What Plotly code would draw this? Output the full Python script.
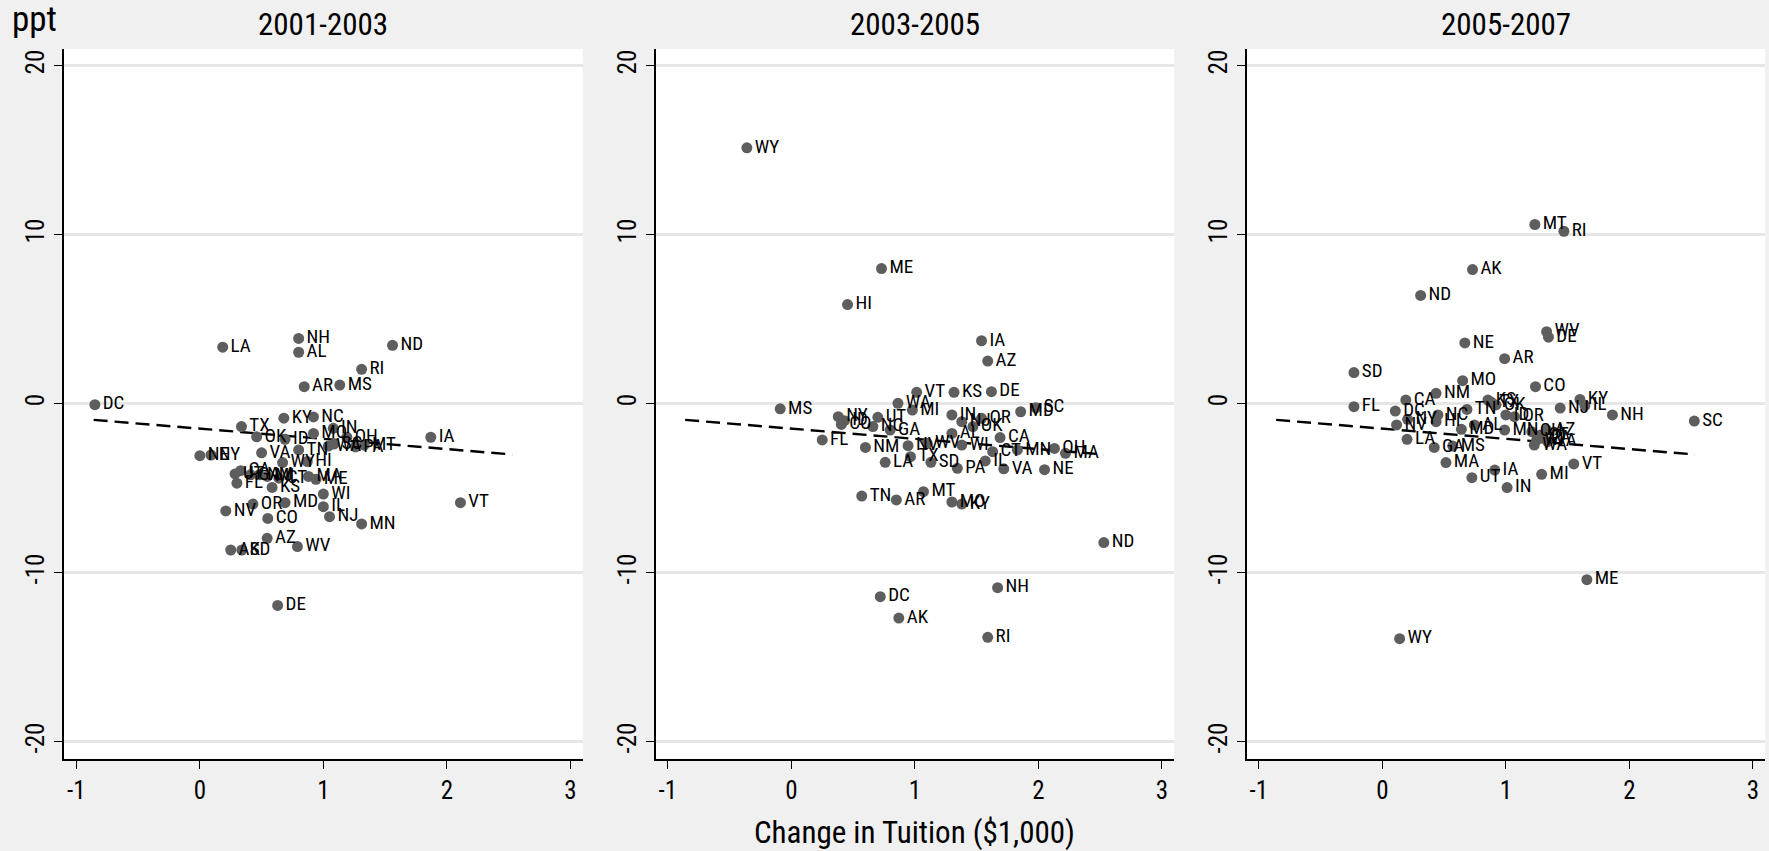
import plotly.graph_objects as go

# ---- data: change in tuition ($1,000) vs change (ppt), by state and period ----
periods = ["2001-2003", "2003-2005", "2005-2007"]

states_0103 = ["DC", "LA", "NH", "AL", "AR", "MS", "ND", "RI", "IA", "VT", "MN", "NJ", "IL",
               "WI", "WV", "AZ", "SD", "AK", "NV", "OR", "CO", "MD", "TX", "KY", "NC", "IN",
               "OK", "ID", "MO", "WA", "SC", "OH", "PA", "MT", "VA", "TN", "WY", "HI", "NE",
               "NY", "UT", "FL", "CA", "GA", "NM", "MI", "CT", "KS", "MA", "ME", "DE"]
tuition_0103 = [-0.85, 0.185, 0.80, 0.80, 0.845, 1.133, 1.56, 1.31, 1.87, 2.11, 1.31, 1.05, 1.0,
                1.0, 0.79, 0.545, 0.34, 0.25, 0.21, 0.43, 0.55, 0.69, 0.337, 0.68, 0.92, 1.08,
                0.46, 0.69, 0.92, 1.04, 1.085, 1.19, 1.26, 1.33, 0.50, 0.80, 0.67, 0.87, 0.0,
                0.09, 0.285, 0.30, 0.33, 0.41, 0.48, 0.545, 0.64, 0.585, 0.88, 0.94, 0.63]
change_0103 = [-0.05, 3.35, 3.87, 3.05, 1.01, 1.11, 3.46, 2.04, -1.98, -5.85, -7.11, -6.68, -6.09,
               -5.34, -8.45, -7.96, -8.65, -8.65, -6.34, -5.93, -6.78, -5.85, -1.35, -0.85, -0.78, -1.45,
               -1.95, -2.1, -1.75, -2.5, -2.38, -1.98, -2.55, -2.45, -2.9, -2.73, -3.48, -3.42, -3.07,
               -3.03, -4.15, -4.7, -3.96, -4.2, -4.2, -4.3, -4.4, -4.95, -4.3, -4.47, -11.93]

states_0305 = ["WY", "ME", "HI", "IA", "AZ", "KS", "DE", "VT", "WA", "MI", "MS", "FL", "NM",
               "TN", "AR", "NY", "CO", "ID", "UT", "NC", "GA", "LA", "TX", "NV", "WV", "SD",
               "IN", "OR", "NJ", "OK", "MD", "SC", "AL", "WI", "CA", "CT", "IL", "PA", "VA",
               "NE", "MN", "OH", "MA", "MT", "MO", "KY", "ND", "DC", "AK", "NH", "RI"]
tuition_0305 = [-0.36, 0.73, 0.455, 1.54, 1.59, 1.317, 1.62, 1.015, 0.863, 0.98, -0.09, 0.25, 0.60,
                0.57, 0.85, 0.38, 0.405, 0.43, 0.70, 0.66, 0.80, 0.76, 0.965, 0.945, 1.10, 1.13,
                1.30, 1.54, 1.38, 1.47, 1.857, 1.98, 1.30, 1.38, 1.69, 1.63, 1.57, 1.344, 1.72,
                2.05, 1.83, 2.13, 2.22, 1.07, 1.30, 1.38, 2.53, 0.72, 0.87, 1.67, 1.59]
change_0305 = [15.15, 8.0, 5.87, 3.73, 2.53, 0.68, 0.72, 0.68, 0.03, -0.37, -0.3, -2.14, -2.58,
               -5.46, -5.69, -0.76, -1.22, -1.0, -0.80, -1.35, -1.55, -3.46, -3.13, -2.48, -2.34, -3.46,
               -0.66, -0.86, -1.06, -1.35, -0.47, -0.23, -1.75, -2.44, -2.0, -2.83, -3.38, -3.82, -3.85,
               -3.9, -2.73, -2.64, -2.93, -5.2, -5.81, -5.93, -8.21, -11.41, -12.68, -10.88, -13.82]

states_0507 = ["MT", "RI", "AK", "ND", "WV", "DE", "NE", "AR", "SD", "MO", "CO", "NM", "FL",
               "CA", "KS", "OK", "TX", "TN", "ID", "OR", "NJ", "KY", "IL", "NH", "SC", "VT",
               "MI", "IN", "IA", "UT", "MA", "GA", "MS", "LA", "DC", "NY", "NV", "HI", "NC",
               "MD", "AL", "MN", "OH", "AZ", "CT", "PA", "WI", "WA", "VA", "ME", "WY"]
tuition_0507 = [1.235, 1.47, 0.73, 0.31, 1.33, 1.345, 0.668, 0.99, -0.23, 0.65, 1.24, 0.435, -0.23,
                0.19, 0.855, 0.92, 0.88, 0.685, 1.0, 1.07, 1.44, 1.60, 1.64, 1.863, 2.526, 1.55,
                1.29, 1.01, 0.91, 0.725, 0.515, 0.42, 0.57, 0.20, 0.105, 0.205, 0.115, 0.435, 0.45,
                0.64, 0.745, 0.99, 1.21, 1.33, 1.28, 1.30, 1.25, 1.23, 1.34, 1.656, 0.14]
change_0507 = [10.61, 10.21, 7.94, 6.41, 4.27, 3.94, 3.6, 2.67, 1.85, 1.37, 1.01, 0.62, -0.17,
               0.22, 0.22, -0.07, 0.1, -0.33, -0.66, -0.76, -0.25, 0.26, -0.1, -0.66, -1.02, -3.56,
               -4.17, -4.96, -3.92, -4.37, -3.48, -2.58, -2.5, -2.1, -0.43, -0.92, -1.25, -1.06, -0.66,
               -1.51, -1.25, -1.55, -1.65, -1.55, -1.85, -2.04, -2.14, -2.44, -2.24, -10.41, -13.9]

# pooled linear fit, drawn between the smallest and largest tuition change
fit_x = [-0.86, 2.53]
fit_y = [-0.95, -3.0]

x_ticks = [-1, 0, 1, 2, 3]
y_ticks = [-20, -10, 0, 10, 20]

# ---- styling ----
FONT = "Liberation Sans Narrow, Arial Narrow, Roboto Condensed, Liberation Sans, Arial, sans-serif"
BG = "#f0f0f0"
MARKER = "#5e5e5e"
W, H = 1769, 851

x_domains = [[64 / W, 582.7 / W], [655.5 / W, 1174.2 / W], [1246.5 / W, 1765.2 / W]]
y_domain = [1 - 758.7 / H, 1 - 48.9 / H]

panels = [
    (states_0103, tuition_0103, change_0103),
    (states_0305, tuition_0305, change_0305),
    (states_0507, tuition_0507, change_0507),
]

fig = go.Figure()

for i, (st, xv, yv) in enumerate(panels):
    sfx = "" if i == 0 else str(i + 1)
    fig.add_trace(go.Scatter(
        x=fit_x, y=fit_y, mode="lines",
        line=dict(color="black", width=2.4, dash="14px,7px"),
        xaxis="x" + sfx, yaxis="y" + sfx, showlegend=False, hoverinfo="skip",
    ))
    fig.add_trace(go.Scatter(
        x=xv, y=yv, text=st, mode="markers+text",
        marker=dict(color=MARKER, size=11, line=dict(width=0)),
        textposition="middle right",
        textfont=dict(family=FONT, size=19, color="black"),
        xaxis="x" + sfx, yaxis="y" + sfx, showlegend=False, cliponaxis=False,
    ))

    xa = dict(
        domain=x_domains[i], range=[-1.1, 3.1], tickvals=x_ticks,
        ticktext=[str(t) for t in x_ticks],
        ticks="outside", ticklen=8, tickwidth=1.2, tickcolor="black",
        tickfont=dict(family=FONT, size=25, color="black"),
        showline=True, linecolor="black", linewidth=2.2,
        showgrid=False, zeroline=False, anchor="y" + sfx, fixedrange=True,
    )
    ya = dict(
        domain=y_domain, range=[-21, 21], tickvals=y_ticks,
        ticktext=[str(t) for t in y_ticks],
        ticks="outside", ticklen=8, tickwidth=1.2, tickcolor="black",
        tickfont=dict(family=FONT, size=25, color="black"),
        showline=True, linecolor="black", linewidth=1.5,
        showgrid=True, gridcolor="#e6e6e6", gridwidth=2.5,
        zeroline=False, anchor="x" + sfx, fixedrange=True,
    )
    fig.layout["xaxis" + sfx] = xa
    fig.layout["yaxis" + sfx] = ya

# vertical y tick labels, reading bottom to top
fig.update_yaxes(tickangle=-90)

annotations = []
for i, title in enumerate(periods):
    annotations.append(dict(
        text=title, x=(x_domains[i][0] + x_domains[i][1]) / 2, y=1 - 25 / H,
        xref="paper", yref="paper", xanchor="center", yanchor="middle",
        showarrow=False, font=dict(family=FONT, size=31, color="black"),
    ))
annotations.append(dict(
    text="ppt", x=10 / W, y=1 - 19 / H, xref="paper", yref="paper",
    xanchor="left", yanchor="middle", showarrow=False,
    font=dict(family=FONT, size=35, color="black"),
))
annotations.append(dict(
    text="Change in Tuition ($1,000)", x=(x_domains[1][0] + x_domains[1][1]) / 2, y=1 - 832 / H,
    xref="paper", yref="paper", xanchor="center", yanchor="middle", showarrow=False,
    font=dict(family=FONT, size=31, color="black"),
))

fig.update_layout(
    width=W, height=H, margin=dict(l=0, r=0, t=0, b=0),
    paper_bgcolor=BG, plot_bgcolor="white",
    annotations=annotations, showlegend=False,
    font=dict(family=FONT, color="black"),
)

fig.write_html("out.html")
